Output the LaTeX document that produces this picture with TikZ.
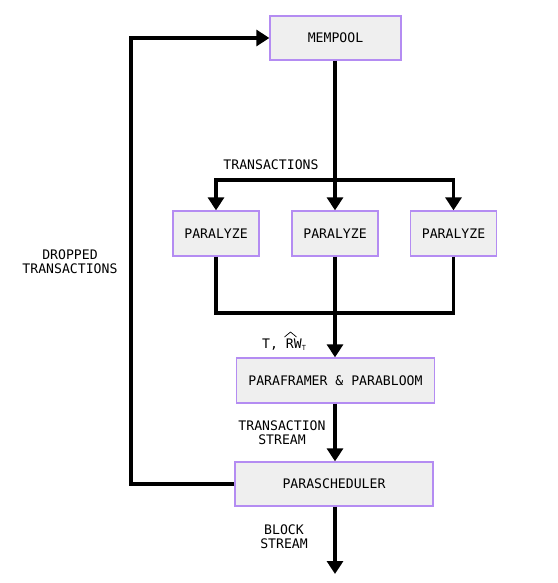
\documentclass[tikz,border=0pt]{standalone}
\usepackage{fontspec}
\setmonofont{DejaVu Sans Mono}
\usetikzlibrary{arrows.meta}
\definecolor{boxfill}{HTML}{EFEFEF}
\definecolor{boxdraw}{HTML}{B48CF2}
\begin{document}
\begin{tikzpicture}[x=1bp,y=-1bp,
  every node/.style={font=\ttfamily\fontsize{13.2}{13.8}\selectfont},
  blk/.style={draw=boxdraw,fill=boxfill,line width=1.3bp,minimum height=44bp,inner sep=0pt},
  conn/.style={line width=3.2bp,black},
  arr/.style={conn,-{Triangle[length=13bp,width=16bp]}},
  lbl/.style={align=center,inner sep=0pt}]
\useasboundingbox (0,0) rectangle (558,583);
\node[blk,minimum width=131bp] (mem) at (335.5,38) {MEMPOOL};
\node[blk,minimum width=86bp,minimum height=45bp] (p1) at (216,233.5) {PARALYZE};
\node[blk,minimum width=86bp,minimum height=45bp] (p2) at (335,233.5) {PARALYZE};
\node[blk,minimum width=86bp,minimum height=45bp] (p3) at (453.5,233.5) {PARALYZE};
\node[blk,minimum width=198bp,minimum height=45bp] (pf) at (335.5,380.5) {PARAFRAMER \& PARABLOOM};
\node[blk,minimum width=198bp] (ps) at (334,484) {PARASCHEDULER};
\coordinate (split) at (335,180);
\coordinate (join) at (335,313);
\coordinate (loop) at (131,484);
\coordinate (out) at (335,574);
\draw[conn] (mem.south -| split) -- (split);
\draw[arr] (split) -| (p1.north);
\draw[arr] (split) -- (p2.north);
\draw[arr] (split) -| (p3.north);
\draw[conn] (p1.south) |- (join);
\draw[conn] (p3.south) |- (join);
\draw[arr] (p2.south) -- (pf.north -| p2.south);
\draw[arr] (pf.south -| join) -- (ps.north -| join);
\draw[arr] (ps.south -| join) -- (out);
\draw[arr] (ps.west) -- (loop) |- (mem.west);
\node[lbl] (tx) at (271,165) {TRANSACTIONS};
\node[lbl] (drop) at (70,262) {DROPPED\\TRANSACTIONS};
\node[lbl,anchor=base west] (trw) at (262,348) {T, RW\raisebox{-2.5bp}{\fontsize{7}{7}\selectfont T}};
\draw[line width=0.7bp] (284.5,337) -- (290.5,332) -- (296.5,337);
\node[lbl] (ts) at (282,433) {TRANSACTION\\STREAM};
\node[lbl] (bs) at (284,537) {BLOCK\\STREAM};
\end{tikzpicture}
\end{document}
